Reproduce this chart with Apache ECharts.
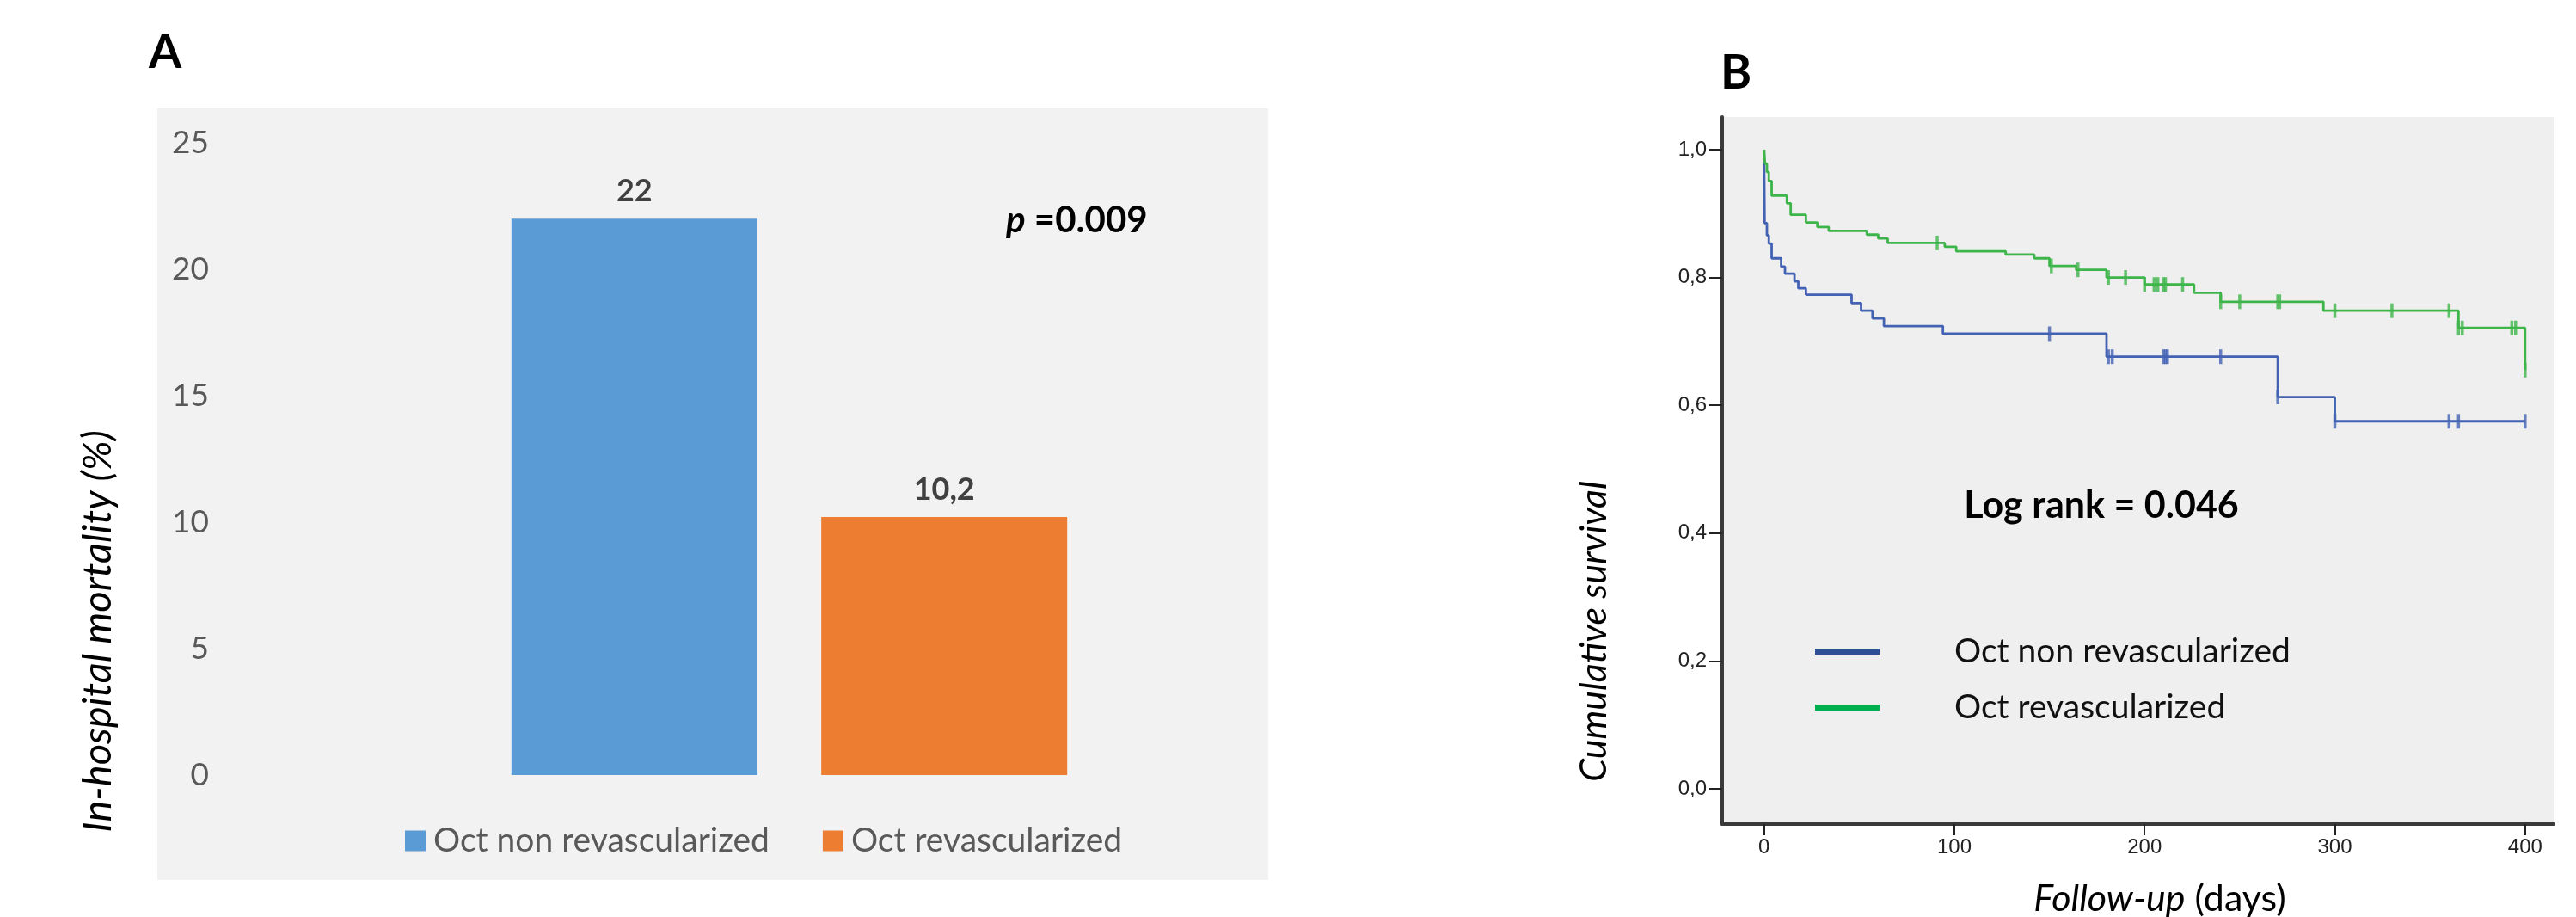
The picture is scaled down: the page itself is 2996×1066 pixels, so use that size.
<!DOCTYPE html>
<html>
<head>
<meta charset="utf-8">
<title>In-hospital mortality and survival</title>
<script src="https://cdn.jsdelivr.net/npm/echarts@6/dist/echarts.min.js"></script>
<style>
  html, body { margin: 0; padding: 0; background: #fff; }
  #chart { width: 2996px; height: 1066px; }
</style>
</head>
<body>
<div id="chart"></div>
<script>
// panel A - in-hospital mortality (%)
var groupNames = ['Oct non revascularized', 'Oct revascularized'];
var barCategory = ['In-hospital mortality'];
var mortalityNonRevasc = [22];
var mortalityRevasc = [10.2];

// panel B - Kaplan-Meier steps, [day, cumulative survival]
var kmNonRevasc = [[0, 1.0], [0.3, 0.885], [1.5, 0.866], [2.5, 0.853], [4, 0.83], [9, 0.817], [11, 0.806],
  [16, 0.794], [18, 0.783], [22, 0.773], [46, 0.76], [51, 0.748], [57, 0.736], [63, 0.724], [94, 0.712],
  [180, 0.676], [270, 0.613], [300, 0.575], [400, 0.575]];
var kmRevasc = [[0, 1.0], [0.5, 0.978], [1.5, 0.965], [2.5, 0.951], [4, 0.928], [12, 0.916], [14, 0.898],
  [22, 0.886], [28, 0.879], [34, 0.873], [54, 0.867], [60, 0.861], [65, 0.854], [95, 0.848], [101, 0.841],
  [127, 0.836], [142, 0.830], [150, 0.818], [164, 0.812], [180, 0.800], [200, 0.789], [226, 0.776],
  [240, 0.762], [294, 0.748], [365, 0.721], [400, 0.655]];
// censored cases
var censNonRevasc = [[150, 0.712], [181, 0.676], [183, 0.676], [210, 0.676], [211, 0.676], [212, 0.676],
  [240, 0.676], [270, 0.613], [300, 0.575], [360, 0.575], [365, 0.575], [400, 0.575]];
var censRevasc = [[91, 0.854], [151, 0.818], [165, 0.812], [181, 0.800], [190, 0.800], [200, 0.789],
  [205, 0.789], [207, 0.789], [210, 0.789], [211, 0.789], [220, 0.789], [240, 0.762], [250, 0.762],
  [270, 0.762], [271, 0.762], [300, 0.748], [330, 0.748], [360, 0.748], [365, 0.721], [367, 0.721],
  [393, 0.721], [395, 0.721], [400, 0.655]];
var survivalTicks = [0, 0.2, 0.4, 0.6, 0.8, 1.0];
var dayTicks = [0, 100, 200, 300, 400];

var blueLine = '#4462b3';
var greenLine = '#3db54a';

var chart = echarts.init(document.getElementById('chart'));

var option = {
  backgroundColor: '#fff',
  animation: false,
  textStyle: { fontFamily: 'Lato, sans-serif' },
  graphic: [
    { type: 'rect', z: -1, shape: { x: 183, y: 126, width: 1292, height: 897 }, style: { fill: '#f2f2f2' } },
    { type: 'text', x: 173, y: 61, style: { text: 'A', fontSize: 55, fontWeight: 'bold', fontFamily: 'Lato', fill: '#000', verticalAlign: 'middle' } },
    { type: 'text', x: 2001, y: 85, style: { text: 'B', fontSize: 55, fontWeight: 'bold', fontFamily: 'Lato', fill: '#000', verticalAlign: 'middle' } },
    { type: 'text', x: 1170, y: 256, style: {
      text: '{i|p} =0.009', fontSize: 42, fontWeight: 'bold', fontFamily: 'Lato', fill: '#000', verticalAlign: 'middle',
      rich: { i: { fontStyle: 'italic', fontSize: 42, fontWeight: 'bold', fontFamily: 'Lato' } }
    } },
    { type: 'text', x: 114, y: 734, rotation: Math.PI / 2, style: {
      text: 'In-hospital mortality (%)', fontSize: 47, fontStyle: 'italic', fontFamily: 'Lato', fill: '#000',
      align: 'center', verticalAlign: 'middle'
    } },
    { type: 'text', x: 1854, y: 734, rotation: Math.PI / 2, style: {
      text: 'Cumulative survival', fontSize: 43, fontStyle: 'italic', fontFamily: 'Lato', fill: '#000',
      align: 'center', verticalAlign: 'middle'
    } },
    { type: 'text', x: 2512, y: 1045, style: {
      text: '{i|Follow-up} (days)', fontSize: 43, fontFamily: 'Lato', fill: '#000', align: 'center', verticalAlign: 'middle',
      rich: { i: { fontStyle: 'italic', fontSize: 43, fontFamily: 'Lato' } }
    } },
    { type: 'text', x: 2444, y: 588, style: {
      text: 'Log rank = 0.046', fontSize: 43, fontWeight: 'bold', fontFamily: 'Lato', fill: '#000',
      align: 'center', verticalAlign: 'middle'
    } }
  ],
  legend: [
    {
      data: groupNames,
      left: 466, top: 953,
      icon: 'rect', itemWidth: 24, itemHeight: 24, itemGap: 62,
      textStyle: { fontSize: 39, color: '#595959', fontFamily: 'Lato', padding: [0, 0, 0, 4] },
      selectedMode: false
    },
    {
      data: [
        { name: groupNames[0], icon: 'rect', itemStyle: { color: '#2e4f96' } },
        { name: groupNames[1], icon: 'rect', itemStyle: { color: '#00b050' } }
      ],
      orient: 'vertical', left: 2106, top: 733,
      itemWidth: 75, itemHeight: 7, itemGap: 26,
      textStyle: { fontSize: 39, color: '#111', fontFamily: 'Lato', padding: [0, 0, 0, 82] },
      selectedMode: false
    }
  ],
  grid: [
    { left: 518, width: 800, top: 166, height: 735 },
    { left: 2003, width: 967, top: 136, height: 822, show: true, backgroundColor: '#efefef', borderWidth: 0 }
  ],
  xAxis: [
    {
      gridIndex: 0, type: 'category', data: barCategory,
      axisLine: { show: false }, axisTick: { show: false }, axisLabel: { show: false }
    },
    {
      gridIndex: 1, type: 'value', min: -22, max: 415,
      splitLine: { show: false },
      axisLine: { show: true, onZero: false, lineStyle: { color: '#3a3a3a', width: 4 } },
      axisTick: { show: true, customValues: dayTicks, length: 13, lineStyle: { color: '#222', width: 2 } },
      axisLabel: { customValues: dayTicks, margin: 15, fontFamily: 'Liberation Sans', fontSize: 24, color: '#222' }
    }
  ],
  yAxis: [
    {
      gridIndex: 0, type: 'value', min: 0, max: 25, interval: 5,
      splitLine: { show: false }, axisLine: { show: false }, axisTick: { show: false },
      axisLabel: { margin: 275, fontSize: 37, color: '#595959', fontFamily: 'Lato' }
    },
    {
      gridIndex: 1, type: 'value', min: -0.055, max: 1.051,
      splitLine: { show: false },
      axisLine: { show: true, onZero: false, lineStyle: { color: '#3a3a3a', width: 4 } },
      axisTick: { show: true, customValues: survivalTicks, length: 15, lineStyle: { color: '#222', width: 2 } },
      axisLabel: {
        customValues: survivalTicks, margin: 18, fontFamily: 'Liberation Sans', fontSize: 24, color: '#222',
        formatter: function (v) { return v.toFixed(1).replace('.', ','); }
      }
    }
  ],
  series: [
    {
      name: groupNames[0], type: 'bar', xAxisIndex: 0, yAxisIndex: 0, data: mortalityNonRevasc,
      barWidth: 286, barGap: '26%', itemStyle: { color: '#5b9bd5' },
      label: {
        show: true, position: 'top', distance: 14, fontSize: 36, fontWeight: 'bold', color: '#404040', fontFamily: 'Lato',
        formatter: function (p) { return String(p.value).replace('.', ','); }
      }
    },
    {
      name: groupNames[1], type: 'bar', xAxisIndex: 0, yAxisIndex: 0, data: mortalityRevasc,
      barWidth: 286, barGap: '26%', itemStyle: { color: '#ed7d31' },
      label: {
        show: true, position: 'top', distance: 14, fontSize: 36, fontWeight: 'bold', color: '#404040', fontFamily: 'Lato',
        formatter: function (p) { return String(p.value).replace('.', ','); }
      }
    },
    {
      name: groupNames[0], type: 'line', xAxisIndex: 1, yAxisIndex: 1, step: 'end', data: kmNonRevasc,
      showSymbol: false, lineStyle: { color: blueLine, width: 2.8 }, itemStyle: { color: blueLine }
    },
    {
      name: groupNames[1], type: 'line', xAxisIndex: 1, yAxisIndex: 1, step: 'end', data: kmRevasc,
      showSymbol: false, lineStyle: { color: greenLine, width: 2.8 }, itemStyle: { color: greenLine }
    },
    {
      name: 'Censored non revascularized', type: 'scatter', xAxisIndex: 1, yAxisIndex: 1, data: censNonRevasc,
      symbol: 'rect', symbolSize: [3.5, 17], itemStyle: { color: blueLine }, silent: true
    },
    {
      name: 'Censored revascularized', type: 'scatter', xAxisIndex: 1, yAxisIndex: 1, data: censRevasc,
      symbol: 'rect', symbolSize: [3.5, 17], itemStyle: { color: greenLine }, silent: true
    }
  ]
};

chart.setOption(option);
</script>
</body>
</html>
